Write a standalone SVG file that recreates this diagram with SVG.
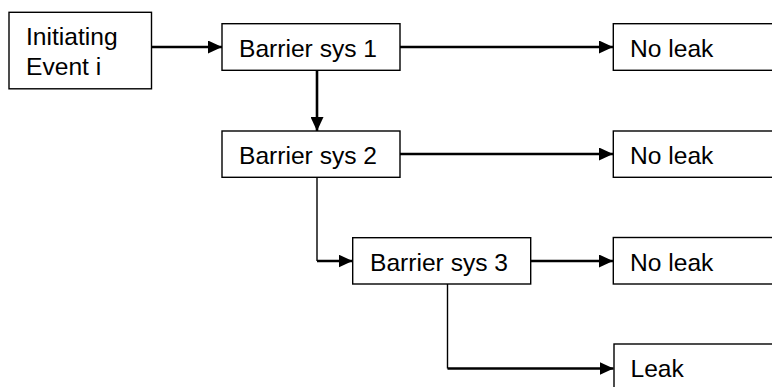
<svg xmlns="http://www.w3.org/2000/svg" width="772" height="387" viewBox="0 0 772 387">
<defs>
<style>
.box{fill:#fff;stroke:#000;stroke-width:1.4}
.t{font-family:"Liberation Sans",Arial,sans-serif;font-size:24.6px;fill:#000}
.thick{fill:none;stroke:#000;stroke-width:2.6}
.thin{fill:none;stroke:#000;stroke-width:1.4}
</style>
<marker id="ah" markerUnits="userSpaceOnUse" markerWidth="14" markerHeight="13" refX="14" refY="6.5" orient="auto">
<path d="M0,0 L14,6.5 L0,13 z" fill="#000"/>
</marker>
</defs>
<rect width="772" height="387" fill="#fff"/>
<g id="connectors">
<line class="thick" x1="151" y1="47" x2="222" y2="47" marker-end="url(#ah)"/>
<line class="thick" x1="317" y1="70" x2="317" y2="131" marker-end="url(#ah)"/>
<line class="thick" x1="400" y1="47" x2="613" y2="47" marker-end="url(#ah)"/>
<line class="thick" x1="400" y1="154" x2="613" y2="154" marker-end="url(#ah)"/>
<line class="thin" x1="317" y1="177" x2="317" y2="261"/>
<line class="thick" x1="317" y1="261" x2="352.5" y2="261" marker-end="url(#ah)"/>
<line class="thick" x1="530.5" y1="261" x2="613" y2="261" marker-end="url(#ah)"/>
<line class="thin" x1="447.5" y1="284" x2="447.5" y2="368.5"/>
<line class="thick" x1="447.5" y1="368.5" x2="613.5" y2="368.5" marker-end="url(#ah)"/>
</g>
<g id="initiating">
<rect class="box" x="9" y="12.3" width="142.5" height="76.5"/>
<text class="t" x="26" y="45">Initiating</text>
<text class="t" x="26" y="75">Event i</text>
</g>
<g id="barrier1">
<rect class="box" x="222" y="23.7" width="178" height="46.6"/>
<text class="t" x="239" y="57.3">Barrier sys 1</text>
</g>
<g id="barrier2">
<rect class="box" x="222" y="131" width="178" height="46.3"/>
<text class="t" x="239" y="164">Barrier sys 2</text>
</g>
<g id="barrier3">
<rect class="box" x="352.7" y="237.7" width="178" height="46.3"/>
<text class="t" x="370" y="270.5">Barrier sys 3</text>
</g>
<g id="noleak1">
<rect class="box" x="613.3" y="23.7" width="170" height="46.6"/>
<text class="t" x="630" y="57.3">No leak</text>
</g>
<g id="noleak2">
<rect class="box" x="613.3" y="131" width="170" height="46.3"/>
<text class="t" x="630" y="164">No leak</text>
</g>
<g id="noleak3">
<rect class="box" x="613.3" y="237.5" width="170" height="46.5"/>
<text class="t" x="630" y="270.5">No leak</text>
</g>
<g id="leak">
<rect class="box" x="614" y="344" width="170" height="60"/>
<text class="t" x="630.5" y="376.7">Leak</text>
</g>
</svg>
